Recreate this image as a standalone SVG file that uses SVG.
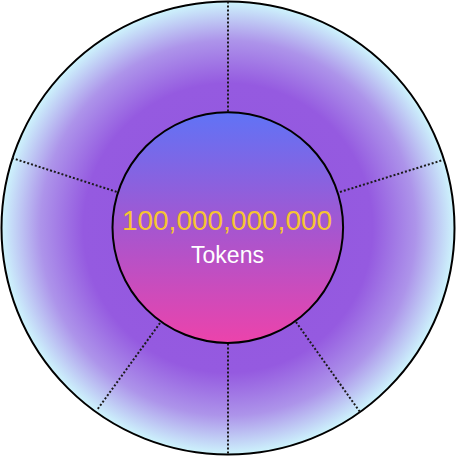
<svg xmlns="http://www.w3.org/2000/svg" width="456" height="457" viewBox="0 0 456 457">
  <style>
    .ring { stroke: #000; stroke-width: 2; }
    .div { stroke: #1a1a1a; stroke-width: 2; stroke-dasharray: 2 2; fill: none; }
    .num { font-family: "Liberation Sans", Arial, sans-serif; font-size: 28px; fill: #f6c531; text-anchor: middle; }
    .lbl { font-family: "Liberation Sans", Arial, sans-serif; font-size: 23px; fill: #ffffff; text-anchor: middle; }
  </style>
  <defs>
    <radialGradient id="outerGrad" gradientUnits="userSpaceOnUse" cx="228" cy="228" r="226">
      <stop offset="0" stop-color="#9356df"/>
      <stop offset="0.64" stop-color="#955ae0"/>
      <stop offset="0.83" stop-color="#ad94ea"/>
      <stop offset="1" stop-color="#cdf3fc"/>
    </radialGradient>
    <linearGradient id="innerGrad" x1="0" y1="0" x2="0" y2="1">
      <stop offset="0" stop-color="#6073f6"/>
      <stop offset="0.5" stop-color="#a556d0"/>
      <stop offset="1" stop-color="#ec43ab"/>
    </linearGradient>
  </defs>
  <g id="outer-ring">
    <circle cx="228" cy="228" r="226.5" fill="url(#outerGrad)" class="ring"/>
  </g>
  <g id="connectors">
    <line class="div" x1="228" y1="1.5" x2="228" y2="112.5"/>
    <line class="div" x1="12" y1="158" x2="117" y2="192"/>
    <line class="div" x1="340" y1="192" x2="443" y2="160"/>
    <line class="div" x1="160" y1="323" x2="97" y2="410"/>
    <line class="div" x1="228" y1="343.5" x2="228" y2="455"/>
    <line class="div" x1="296" y1="322" x2="360" y2="412"/>
  </g>
  <g id="center">
    <circle cx="227.8" cy="227.6" r="115.3" fill="url(#innerGrad)" class="ring"/>
    <text class="num" x="227" y="229.5">100,000,000,000</text>
    <text class="lbl" x="227.5" y="263">Tokens</text>
  </g>
</svg>
